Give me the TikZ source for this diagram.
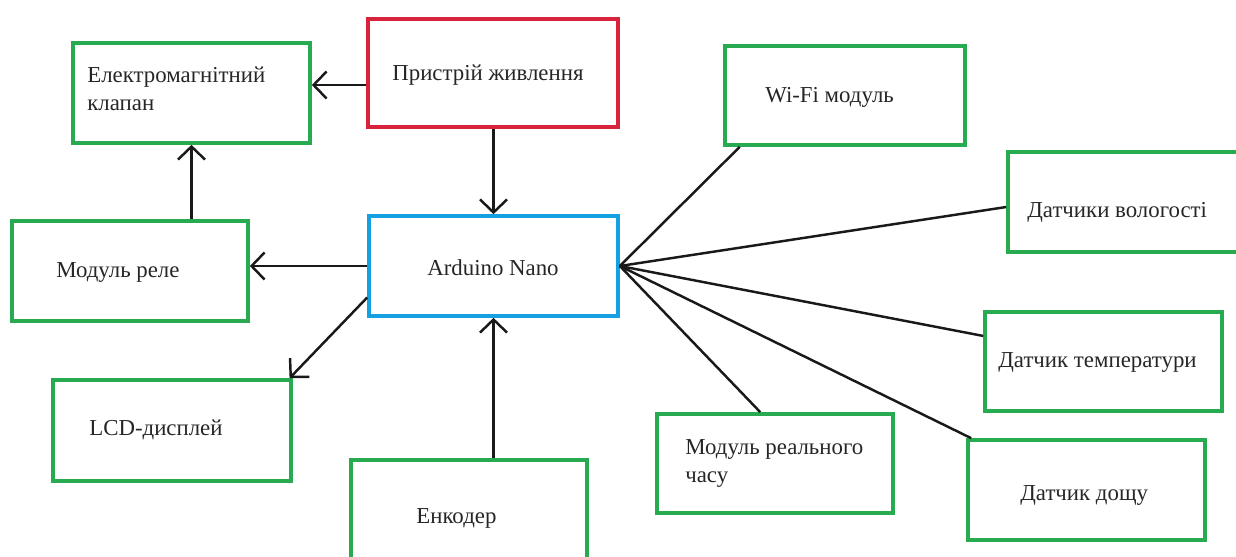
\documentclass[tikz,border=0pt]{standalone}
\usepackage{fontspec}
\setmainfont{Liberation Serif}
\usetikzlibrary{arrows.meta,fit}
\definecolor{vert}{RGB}{40,170,80}
\definecolor{rouge}{RGB}{215,35,60}
\definecolor{bleu}{RGB}{20,160,225}
\tikzset{
  bloc/.style={draw=vert, line width=2.1pt, inner sep=0pt},
  texte/.style={anchor=base west, inner sep=0pt, text=black!85, font=\fontsize{13}{15.5}\selectfont, align=left},
  fleche/.style={draw=black!90, line width=1.4pt, -{Straight Barb[length=2.6mm,width=5.4mm]}},
  lien/.style={draw=black!90, line width=1.4pt},
}
\begin{document}
\begin{tikzpicture}[x=0.02cm, y=-0.02cm]
        \useasboundingbox (0,0) rectangle (1236,556);

        % Blocs
        \node[bloc, fit={(73,43) (310,143)}] (klapan) {};
        \node[bloc, draw=rouge, fit={(368,19) (618,127)}] (pitanie) {};
        \node[bloc, fit={(725,46) (965,145)}] (wifi) {};
        \node[bloc, fit={(1008,152) (1245,252)}] (volog) {};
        \node[bloc, fit={(12,221) (248,321)}] (rele) {};
        \node[bloc, draw=bleu, fit={(369,216) (618,316)}] (arduino) {};
        \node[bloc, fit={(53,380) (291,481)}] (lcd) {};
        \node[bloc, fit={(351,460) (587,565)}] (enkoder) {};
        \node[bloc, fit={(657,414) (893,513)}] (chas) {};
        \node[bloc, fit={(985,312) (1222,411)}] (temp) {};
        \node[bloc, fit={(968,440) (1205,540)}] (doshch) {};

        % Textes
        \node[texte] (klapan-t) at (87,110) {Електромагнітний\\клапан};
        \node[texte] (pitanie-t) at (392,80) {Пристрій живлення};
        \node[texte] (wifi-t) at (765,102) {Wi-Fi модуль};
        \node[texte] (volog-t) at (1027,217) {Датчики вологості};
        \node[texte] (rele-t) at (56,277) {Модуль реле};
        \node[texte] (arduino-t) at (427,275) {Arduino Nano};
        \node[texte] (lcd-t) at (89,435) {LCD-дисплей};
        \node[texte] (enkoder-t) at (416,523) {Енкодер};
        \node[texte] (chas-t) at (685,482) {Модуль реального\\часу};
        \node[texte] (temp-t) at (998,367) {Датчик температури};
        \node[texte] (doshch-t) at (1020,500) {Датчик дощу};

        % Fleches
        \draw[fleche] (pitanie.west |- 0,85) -- (klapan.east |- 0,85);
        \draw[fleche] (pitanie.south -| arduino.north) -- (arduino.north);
        \draw[fleche] (rele.north -| klapan.south) -- (klapan.south);
        \draw[fleche] (arduino.west) -- (arduino.west -| rele.east);
        \draw[fleche] (arduino.194) -- (lcd.24);
        \draw[fleche] (enkoder.north -| arduino.south) -- (arduino.south);

        % Liaisons capteurs
        \draw[lien] (arduino.east) -- (wifi.206);
        \draw[lien] (arduino.east) -- ([yshift=-0.1cm]volog.west);
        \draw[lien] (arduino.east) -- (temp.168);
        \draw[lien] (arduino.east) -- ([xshift=0.1cm]doshch.north west);
        \draw[lien] (arduino.east) -- (chas.106);
      \end{tikzpicture}
\end{document}
